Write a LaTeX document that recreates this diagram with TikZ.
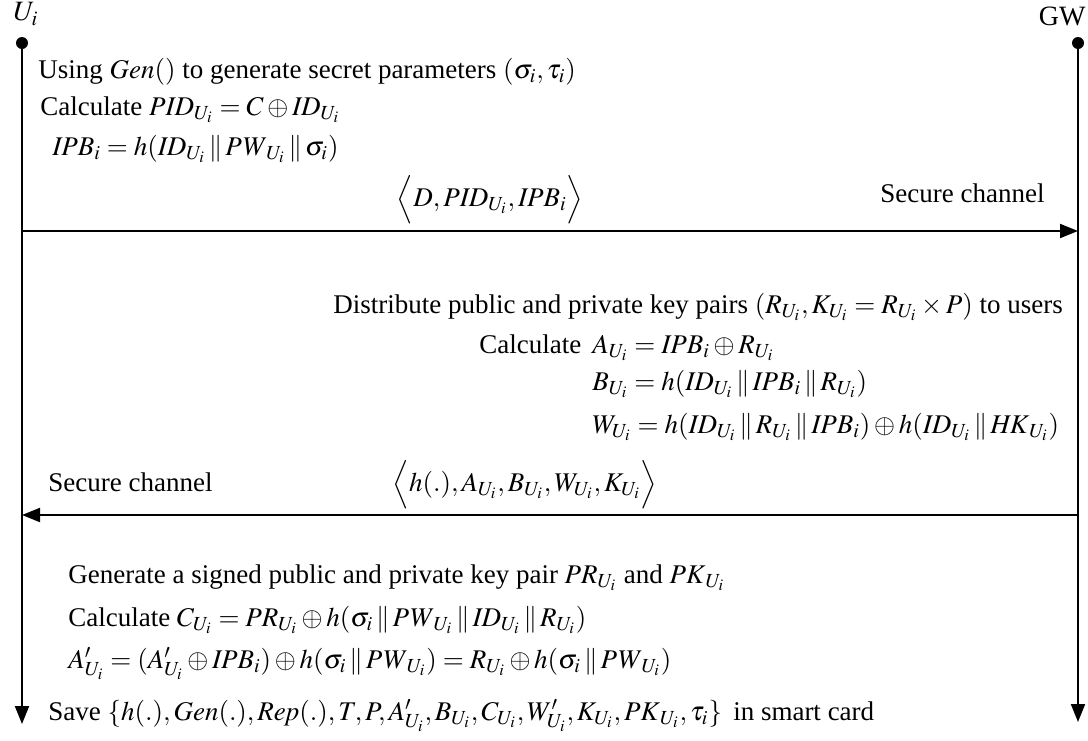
\documentclass[tikz,border=0pt]{standalone}
\usepackage{mathptmx}
\usepackage{fontspec}
\setmainfont{Liberation Serif}
\usetikzlibrary{arrows.meta,positioning}

\begin{document}
\begin{tikzpicture}[x=0.5pt,y=-0.5pt,
  font=\fontsize{13.5}{15}\selectfont,
  txt/.style={anchor=base west, inner sep=0pt},
  party/.style={inner sep=0pt, font=\fontsize{14}{16}\selectfont},
  dot/.style={circle, fill=black, inner sep=0pt, minimum size=6pt},
  life/.style={line width=1pt, -{Triangle[length=9pt,width=7pt]}},
  msg/.style={line width=1pt, -{Triangle[length=9pt,width=7pt]}}]
\useasboundingbox (0,0) rectangle (1088,740);

% parties
\node[party] (ui) at (26,14) {$U_i$};
\node[party, anchor=east] (gw) at (1086,16) {GW};
\node[dot] (uidot) at (22,43) {};
\node[dot] (gwdot) at (1078,43) {};
\coordinate (uiend) at (22,724);
\coordinate (gwend) at (1078,722);
\draw[life] (uidot) -- (uiend);
\draw[life] (gwdot) -- (gwend);

% registration request
\node[txt] (t1) at (38,78) {Using $\mathit{Gen}()$ to generate secret parameters $(\sigma_i,\tau_i)$};
\node[txt] (t2) at (40,115) {Calculate $\mathit{PID}_{U_i}=C\oplus \mathit{ID}_{U_i}$};
\node[txt] (t3) at (52,155) {$\mathit{IPB}_i=h(\mathit{ID}_{U_i}\,\|\,\mathit{PW}_{U_i}\,\|\,\sigma_i)$};
\coordinate (m1s) at (22,231);
\coordinate (m1e) at (1078,231);
\draw[msg] (m1s) -- (m1e);
\node[txt, anchor=base] (m1) at (490,206) {$\Bigl\langle D,\mathit{PID}_{U_i},\mathit{IPB}_i\Bigr\rangle$};
\node[txt] (sc1) at (880,202) {Secure channel};

% gateway side
\node[txt] (g1) at (333,313) {Distribute public and private key pairs $(R_{U_i},K_{U_i}=R_{U_i}\times P)$ to users};
\node[txt] (g2) at (479,353) {Calculate};
\node[txt] (g3) at (592,353) {$A_{U_i}=\mathit{IPB}_i\oplus R_{U_i}$};
\node[txt] (g4) at (592,390) {$B_{U_i}=h(\mathit{ID}_{U_i}\,\|\,\mathit{IPB}_i\,\|\,R_{U_i})$};
\node[txt] (g5) at (592,433) {$W_{U_i}=h(\mathit{ID}_{U_i}\,\|\,R_{U_i}\,\|\,\mathit{IPB}_i)\oplus h(\mathit{ID}_{U_i}\,\|\,\mathit{HK}_{U_i})$};
\coordinate (m2s) at (1078,515);
\coordinate (m2e) at (22,515);
\draw[msg] (m2s) -- (m2e);
\node[txt] (sc2) at (48,491) {Secure channel};
\node[txt, anchor=base] (m2) at (525,491) {$\Bigl\langle h(.),A_{U_i},B_{U_i},W_{U_i},K_{U_i}\Bigr\rangle$};

% smart card
\node[txt] (u1) at (68,583) {Generate a signed public and private key pair $\mathit{PR}_{U_i}$ and $\mathit{PK}_{U_i}$};
\node[txt] (u2) at (68,626) {Calculate $C_{U_i}=\mathit{PR}_{U_i}\oplus h(\sigma_i\,\|\,\mathit{PW}_{U_i}\,\|\,\mathit{ID}_{U_i}\,\|\,R_{U_i})$};
\node[txt] (u3) at (68,668) {$A'_{U_i}=(A'_{U_i}\oplus \mathit{IPB}_i)\oplus h(\sigma_i\,\|\,\mathit{PW}_{U_i})=R_{U_i}\oplus h(\sigma_i\,\|\,\mathit{PW}_{U_i})$};
\node[txt] (u4) at (48,720) {Save $\{h(.),\mathit{Gen}(.),\mathit{Rep}(.),T,P,A'_{U_i},B_{U_i},C_{U_i},W'_{U_i},K_{U_i},\mathit{PK}_{U_i},\tau_i\}$\, in smart card};
\end{tikzpicture}
\end{document}
